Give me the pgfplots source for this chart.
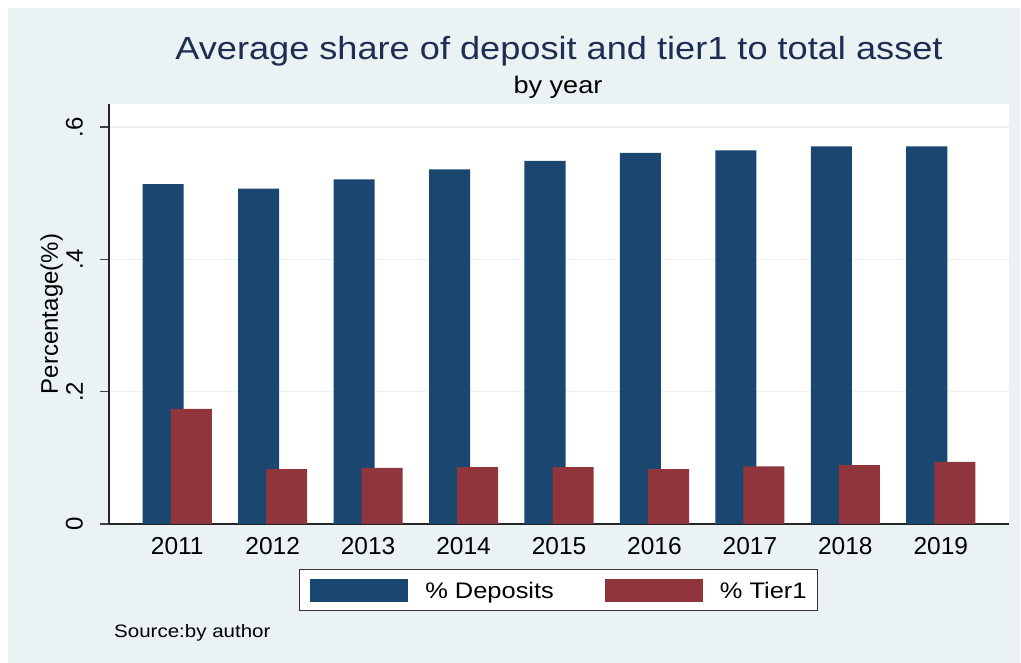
\documentclass[border=0pt]{standalone}
\usepackage{pgfplots}
\pgfplotsset{compat=1.18}
\usepackage{fontspec}
\setmainfont{Liberation Sans}
\usepackage{graphicx}
\definecolor{stnavy}{RGB}{26,71,111}
\definecolor{stmaroon}{RGB}{144,53,59}
\definecolor{stbg}{RGB}{234,242,243}
\definecolor{sttitle}{RGB}{30,45,83}
\newcommand{\fs}[1]{\fontsize{#1bp}{#1bp}\selectfont}
\pgfplotsset{mylegend/.style={legend image code/.code={\fill[##1] (0bp,-3.2bp) rectangle (98bp,19.8bp);}}}

\pgfplotstableread{
year dep
2011 0.514
2012 0.507
2013 0.521
2014 0.536
2015 0.549
2016 0.561
2017 0.565
2018 0.571
2019 0.571
}\deposits
\pgfplotstableread{
year tier
2011 0.174
2012 0.083
2013 0.085
2014 0.086
2015 0.086
2016 0.083
2017 0.087
2018 0.089
2019 0.094
}\tierone

\begin{document}
\begin{tikzpicture}[x=1bp,y=1bp]
\useasboundingbox (0,0) rectangle (1021,663);
\fill[white] (0,0) rectangle (1021,663);
\fill[stbg] (8,0) rectangle (1020,655);
\begin{axis}[
  at={(109bp,139bp)}, anchor=south west,
  scale only axis, width=900bp, height=420bp,
  xmin=2010.285, xmax=2019.715, ymin=0, ymax=0.635,
  axis background/.style={fill=white},
  axis x line*=bottom, axis y line*=left,
  axis line style={line width=1.5bp, color=black!85},
  ybar, bar width=0.43,
  xtick={2011,2012,2013,2014,2015,2016,2017,2018,2019},
  xticklabels={2011,2012,2013,2014,2015,2016,2017,2018,2019},
  x tick style={draw=none},
  xticklabel style={font=\fs{24.5}, anchor=north, inner sep=0pt, yshift=-4bp},
  ytick={0,0.2,0.4,0.6}, yticklabels={0,.2,.4,.6},
  tick align=outside, major tick length=9bp,
  y tick style={line width=1.3bp, color=black!75},
  yticklabel style={font=\fs{24}, xshift=-17bp, rotate=90, anchor=south, inner sep=0pt},
  ymajorgrids, y grid style={stbg, line width=1.5bp},
  ylabel={Percentage(\%)},
  ylabel style={font=\fs{24}, at={(axis description cs:-0.0637,0.5)}, anchor=center, rotate=0, inner sep=0pt},
  /pgf/number format/assume math mode=true,
  legend columns=2,
  legend style={at={(axis description cs:0.4994,-0.1071)}, anchor=north,
    draw=black!80, line width=1.2bp, fill=white,
    inner xsep=11bp, inner ysep=9bp, font=\fs{22.5},
    /tikz/every odd column/.append style={column sep=17bp},
    /tikz/every even column/.append style={column sep=51bp},
    nodes={inner sep=0pt, anchor=base west}},
]
\addplot[fill=stnavy, draw=none, bar shift=-0.147, mylegend] table[x=year, y=dep] {\deposits};
\addlegendentry{\scalebox{1.13}[1]{\% Deposits}}
\addplot[fill=stmaroon, draw=none, bar shift=0.147, mylegend] table[x=year, y=tier] {\tierone};
\addlegendentry{\scalebox{1.13}[1]{\% Tier1}}
\end{axis}
\node[anchor=base, text=sttitle, inner sep=0pt] at (559,603.7) {\scalebox{1.13}[1]{\fs{32}Average share of deposit and tier1 to total asset}};
\node[anchor=base, inner sep=0pt] at (558,569) {\scalebox{1.13}[1]{\fs{24}by year}};
\node[anchor=base west, inner sep=0pt] at (114,25.3) {\scalebox{1.14}[1]{\fs{18}Source:by author}};
\end{tikzpicture}
\end{document}
